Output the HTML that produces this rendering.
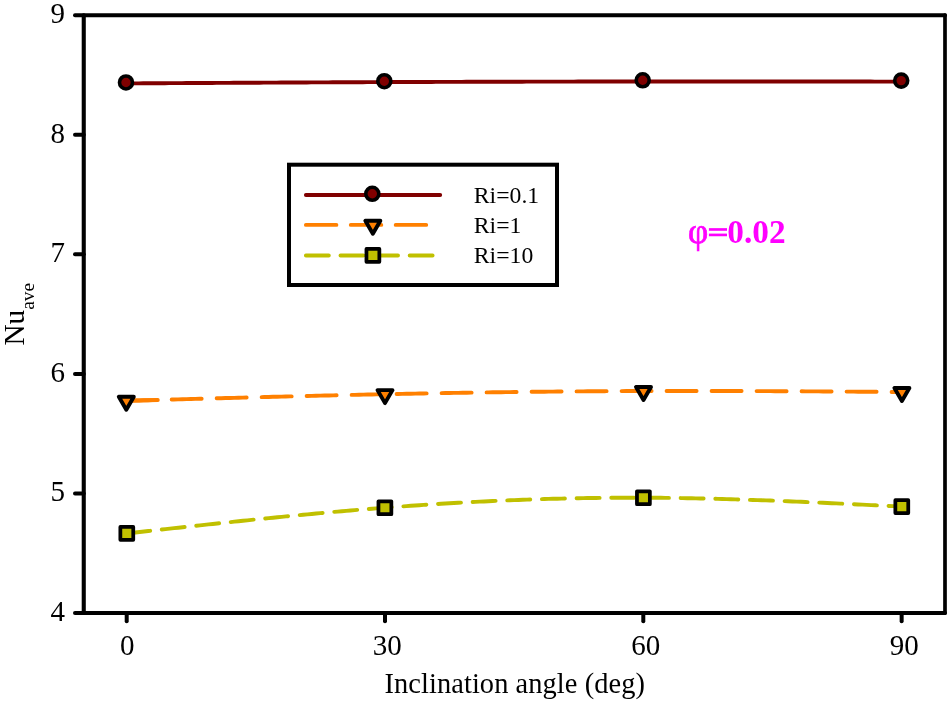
<!DOCTYPE html>
<html><head><meta charset="utf-8"><title>chart</title>
<style>html,body{margin:0;padding:0;background:#fff;}body{width:948px;height:703px;position:relative;overflow:hidden;font-family:"Liberation Serif",serif;}</style>
</head><body>
<svg width="948" height="703" viewBox="0 0 948 703" style="position:absolute;left:0;top:0;will-change:transform">
<rect x="0" y="0" width="948" height="703" fill="#fff"/>
<path d="M126.00,83.40 L130.31,83.38 L134.61,83.35 L138.91,83.33 L143.22,83.30 L147.53,83.28 L151.83,83.26 L156.13,83.23 L160.44,83.21 L164.75,83.18 L169.05,83.16 L173.35,83.14 L177.66,83.11 L181.97,83.09 L186.27,83.07 L190.57,83.04 L194.88,83.02 L199.19,83.00 L203.49,82.97 L207.80,82.95 L212.10,82.93 L216.41,82.90 L220.71,82.88 L225.01,82.86 L229.32,82.83 L233.62,82.81 L237.93,82.79 L242.24,82.76 L246.54,82.74 L250.85,82.72 L255.15,82.70 L259.45,82.68 L263.76,82.65 L268.07,82.63 L272.37,82.61 L276.68,82.59 L280.98,82.57 L285.29,82.54 L289.59,82.52 L293.89,82.50 L298.20,82.48 L302.50,82.46 L306.81,82.44 L311.12,82.42 L315.42,82.40 L319.73,82.38 L324.03,82.36 L328.34,82.34 L332.64,82.32 L336.94,82.30 L341.25,82.28 L345.56,82.26 L349.86,82.24 L354.16,82.22 L358.47,82.21 L362.77,82.19 L367.08,82.17 L371.38,82.15 L375.69,82.13 L380.00,82.12 L384.30,82.10 L388.61,82.08 L392.91,82.07 L397.22,82.05 L401.53,82.03 L405.83,82.02 L410.14,82.00 L414.45,81.99 L418.75,81.97 L423.06,81.96 L427.37,81.94 L431.67,81.93 L435.98,81.91 L440.29,81.90 L444.59,81.88 L448.90,81.87 L453.21,81.86 L457.51,81.84 L461.82,81.83 L466.13,81.82 L470.43,81.81 L474.74,81.79 L479.05,81.78 L483.35,81.77 L487.66,81.76 L491.97,81.75 L496.27,81.74 L500.58,81.73 L504.89,81.72 L509.19,81.71 L513.50,81.69 L517.81,81.69 L522.11,81.68 L526.42,81.67 L530.73,81.66 L535.03,81.65 L539.34,81.64 L543.65,81.63 L547.95,81.62 L552.26,81.61 L556.57,81.61 L560.87,81.60 L565.18,81.59 L569.49,81.58 L573.79,81.58 L578.10,81.57 L582.41,81.56 L586.71,81.56 L591.02,81.55 L595.33,81.55 L599.63,81.54 L603.94,81.54 L608.25,81.53 L612.55,81.53 L616.86,81.52 L621.17,81.52 L625.47,81.51 L629.78,81.51 L634.09,81.51 L638.39,81.50 L642.70,81.50 L647.08,81.50 L651.46,81.49 L655.84,81.49 L660.23,81.49 L664.61,81.49 L668.99,81.49 L673.37,81.48 L677.75,81.48 L682.13,81.48 L686.51,81.48 L690.89,81.48 L695.28,81.48 L699.66,81.48 L704.04,81.48 L708.42,81.48 L712.80,81.48 L717.18,81.48 L721.56,81.48 L725.95,81.48 L730.33,81.48 L734.71,81.48 L739.09,81.48 L743.47,81.49 L747.85,81.49 L752.23,81.49 L756.62,81.49 L761.00,81.49 L765.38,81.49 L769.76,81.50 L774.14,81.50 L778.52,81.50 L782.90,81.50 L787.28,81.51 L791.67,81.51 L796.05,81.51 L800.43,81.51 L804.81,81.52 L809.19,81.52 L813.57,81.52 L817.95,81.53 L822.34,81.53 L826.72,81.53 L831.10,81.54 L835.48,81.54 L839.86,81.54 L844.24,81.55 L848.62,81.55 L853.01,81.56 L857.39,81.56 L861.77,81.56 L866.15,81.57 L870.53,81.57 L874.91,81.58 L879.29,81.58 L883.67,81.58 L888.06,81.59 L892.44,81.59 L896.82,81.60 L901.20,81.60" fill="none" stroke="#800000" stroke-width="3.9" stroke-linecap="round"/>
<path d="M126.30,400.80 L130.61,400.68 L134.92,400.56 L139.23,400.44 L143.55,400.32 L147.86,400.20 L152.17,400.08 L156.48,399.96 L160.79,399.84 L165.10,399.72 L169.42,399.60 L173.73,399.48 L178.04,399.36 L182.35,399.24 L186.66,399.12 L190.97,399.00 L195.29,398.88 L199.60,398.77 L203.91,398.65 L208.22,398.53 L212.53,398.41 L216.84,398.30 L221.16,398.18 L225.47,398.07 L229.78,397.95 L234.09,397.83 L238.40,397.72 L242.71,397.61 L247.03,397.49 L251.34,397.38 L255.65,397.27 L259.96,397.15 L264.27,397.04 L268.58,396.93 L272.90,396.82 L277.21,396.71 L281.52,396.60 L285.83,396.49 L290.14,396.38 L294.45,396.28 L298.77,396.17 L303.08,396.06 L307.39,395.96 L311.70,395.85 L316.01,395.75 L320.32,395.64 L324.64,395.54 L328.95,395.44 L333.26,395.34 L337.57,395.24 L341.88,395.14 L346.19,395.04 L350.51,394.94 L354.82,394.85 L359.13,394.75 L363.44,394.66 L367.75,394.56 L372.06,394.47 L376.38,394.38 L380.69,394.29 L385.00,394.20 L389.31,394.11 L393.62,394.02 L397.93,393.94 L402.23,393.85 L406.54,393.77 L410.85,393.68 L415.16,393.60 L419.47,393.52 L423.77,393.44 L428.08,393.36 L432.39,393.28 L436.70,393.21 L441.01,393.13 L445.32,393.06 L449.62,392.99 L453.93,392.91 L458.24,392.84 L462.55,392.77 L466.86,392.70 L471.17,392.64 L475.48,392.57 L479.78,392.51 L484.09,392.44 L488.40,392.38 L492.71,392.32 L497.02,392.26 L501.32,392.20 L505.63,392.14 L509.94,392.09 L514.25,392.03 L518.56,391.98 L522.87,391.92 L527.17,391.87 L531.48,391.82 L535.79,391.77 L540.10,391.73 L544.41,391.68 L548.72,391.64 L553.02,391.59 L557.33,391.55 L561.64,391.51 L565.95,391.47 L570.26,391.43 L574.57,391.40 L578.88,391.36 L583.18,391.33 L587.49,391.29 L591.80,391.26 L596.11,391.23 L600.42,391.20 L604.73,391.18 L609.03,391.15 L613.34,391.13 L617.65,391.11 L621.96,391.08 L626.27,391.06 L630.58,391.05 L634.88,391.03 L639.19,391.01 L643.50,391.00 L647.88,390.99 L652.26,390.98 L656.64,390.97 L661.02,390.96 L665.40,390.95 L669.78,390.95 L674.16,390.94 L678.54,390.94 L682.92,390.94 L687.30,390.94 L691.68,390.94 L696.06,390.94 L700.44,390.95 L704.82,390.95 L709.19,390.96 L713.57,390.97 L717.95,390.97 L722.33,390.98 L726.71,390.99 L731.09,391.01 L735.47,391.02 L739.85,391.03 L744.23,391.05 L748.61,391.06 L752.99,391.08 L757.37,391.10 L761.75,391.12 L766.13,391.13 L770.51,391.15 L774.89,391.18 L779.27,391.20 L783.65,391.22 L788.03,391.24 L792.41,391.27 L796.79,391.29 L801.17,391.31 L805.55,391.34 L809.93,391.37 L814.31,391.39 L818.69,391.42 L823.07,391.45 L827.45,391.48 L831.83,391.50 L836.21,391.53 L840.58,391.56 L844.96,391.59 L849.34,391.62 L853.72,391.65 L858.10,391.68 L862.48,391.71 L866.86,391.75 L871.24,391.78 L875.62,391.81 L880.00,391.84 L884.38,391.87 L888.76,391.90 L893.14,391.94 L897.52,391.97 L901.90,392.00" fill="none" stroke="#ff8000" stroke-width="3.9" stroke-linecap="round" stroke-dasharray="30 15" stroke-dashoffset="-0.4"/>
<line x1="126.3" y1="400.8" x2="157.8" y2="399.97" stroke="#ff8000" stroke-width="3.9" stroke-linecap="round"/>
<path d="M126.80,533.40 L131.10,532.92 L135.40,532.45 L139.70,531.97 L144.01,531.49 L148.31,531.02 L152.61,530.54 L156.91,530.06 L161.21,529.59 L165.51,529.12 L169.82,528.64 L174.12,528.17 L178.42,527.70 L182.72,527.23 L187.02,526.76 L191.32,526.29 L195.63,525.82 L199.93,525.35 L204.23,524.89 L208.53,524.43 L212.83,523.97 L217.13,523.51 L221.44,523.05 L225.74,522.59 L230.04,522.14 L234.34,521.68 L238.64,521.23 L242.94,520.78 L247.25,520.34 L251.55,519.89 L255.85,519.45 L260.15,519.01 L264.45,518.58 L268.75,518.14 L273.06,517.71 L277.36,517.28 L281.66,516.85 L285.96,516.43 L290.26,516.01 L294.56,515.60 L298.87,515.18 L303.17,514.77 L307.47,514.36 L311.77,513.96 L316.07,513.56 L320.38,513.16 L324.68,512.77 L328.98,512.38 L333.28,512.00 L337.58,511.61 L341.88,511.24 L346.18,510.86 L350.49,510.49 L354.79,510.13 L359.09,509.77 L363.39,509.41 L367.69,509.06 L371.99,508.71 L376.30,508.37 L380.60,508.03 L384.90,507.70 L389.21,507.37 L393.52,507.05 L397.82,506.73 L402.13,506.41 L406.44,506.11 L410.75,505.80 L415.06,505.50 L419.37,505.21 L423.67,504.92 L427.98,504.64 L432.29,504.36 L436.60,504.09 L440.91,503.82 L445.22,503.56 L449.52,503.30 L453.83,503.05 L458.14,502.80 L462.45,502.56 L466.76,502.33 L471.07,502.10 L475.38,501.87 L479.68,501.65 L483.99,501.44 L488.30,501.23 L492.61,501.03 L496.92,500.83 L501.22,500.64 L505.53,500.45 L509.84,500.27 L514.15,500.10 L518.46,499.93 L522.77,499.77 L527.08,499.61 L531.38,499.46 L535.69,499.32 L540.00,499.18 L544.31,499.05 L548.62,498.92 L552.92,498.80 L557.23,498.68 L561.54,498.58 L565.85,498.47 L570.16,498.38 L574.47,498.29 L578.77,498.20 L583.08,498.12 L587.39,498.05 L591.70,497.99 L596.01,497.93 L600.32,497.87 L604.62,497.83 L608.93,497.79 L613.24,497.75 L617.55,497.73 L621.86,497.71 L626.17,497.69 L630.47,497.68 L634.78,497.68 L639.09,497.69 L643.40,497.70 L647.78,497.72 L652.16,497.74 L656.54,497.78 L660.92,497.82 L665.30,497.86 L669.68,497.91 L674.06,497.97 L678.44,498.04 L682.82,498.11 L687.20,498.18 L691.58,498.26 L695.96,498.35 L700.34,498.44 L704.72,498.54 L709.09,498.64 L713.47,498.75 L717.85,498.86 L722.23,498.98 L726.61,499.10 L730.99,499.23 L735.37,499.36 L739.75,499.50 L744.13,499.64 L748.51,499.79 L752.89,499.94 L757.27,500.09 L761.65,500.25 L766.03,500.41 L770.41,500.57 L774.79,500.74 L779.17,500.91 L783.55,501.08 L787.93,501.26 L792.31,501.44 L796.69,501.63 L801.07,501.81 L805.45,502.00 L809.83,502.19 L814.21,502.39 L818.59,502.58 L822.97,502.78 L827.35,502.98 L831.73,503.18 L836.11,503.39 L840.48,503.59 L844.86,503.80 L849.24,504.01 L853.62,504.22 L858.00,504.43 L862.38,504.65 L866.76,504.86 L871.14,505.08 L875.52,505.29 L879.90,505.51 L884.28,505.73 L888.66,505.95 L893.04,506.16 L897.42,506.38 L901.80,506.60" fill="none" stroke="#c0c000" stroke-width="3.9" stroke-linecap="round" stroke-dasharray="23 11.68" stroke-dashoffset="-0.5"/>
<circle cx="126.00" cy="82.45" r="6.5" fill="#800000" stroke="#000" stroke-width="3.6"/>
<circle cx="384.30" cy="81.20" r="6.5" fill="#800000" stroke="#000" stroke-width="3.6"/>
<circle cx="642.70" cy="80.30" r="6.5" fill="#800000" stroke="#000" stroke-width="3.6"/>
<circle cx="901.20" cy="80.60" r="6.5" fill="#800000" stroke="#000" stroke-width="3.6"/>
<path d="M118.80,396.75 L133.80,396.75 L126.30,409.75 Z" fill="#ff8000" stroke="#000" stroke-width="3.9" stroke-linejoin="round"/>
<path d="M377.50,390.15 L392.50,390.15 L385.00,403.15 Z" fill="#ff8000" stroke="#000" stroke-width="3.9" stroke-linejoin="round"/>
<path d="M636.00,386.95 L651.00,386.95 L643.50,399.95 Z" fill="#ff8000" stroke="#000" stroke-width="3.9" stroke-linejoin="round"/>
<path d="M894.40,387.95 L909.40,387.95 L901.90,400.95 Z" fill="#ff8000" stroke="#000" stroke-width="3.9" stroke-linejoin="round"/>
<rect x="120.35" y="526.95" width="12.90" height="12.90" fill="#c0c000" stroke="#000" stroke-width="3.75" stroke-linejoin="round"/>
<rect x="378.45" y="501.25" width="12.90" height="12.90" fill="#c0c000" stroke="#000" stroke-width="3.75" stroke-linejoin="round"/>
<rect x="636.95" y="491.25" width="12.90" height="12.90" fill="#c0c000" stroke="#000" stroke-width="3.75" stroke-linejoin="round"/>
<rect x="895.35" y="500.15" width="12.90" height="12.90" fill="#c0c000" stroke="#000" stroke-width="3.75" stroke-linejoin="round"/>
<path d="M945.0,15.2 L83.75,15.2 L83.75,613.05 L945.0,613.05" fill="none" stroke="#000" stroke-width="4.1" stroke-linejoin="round" stroke-linecap="round"/>
<path d="M945.0,15.2 L945.0,613.05" fill="none" stroke="#000" stroke-width="3.7" stroke-linecap="round"/>
<line x1="75" y1="613.05" x2="83.75" y2="613.05" stroke="#000" stroke-width="4" stroke-linecap="round"/>
<line x1="75" y1="493.48" x2="83.75" y2="493.48" stroke="#000" stroke-width="4" stroke-linecap="round"/>
<line x1="75" y1="373.91" x2="83.75" y2="373.91" stroke="#000" stroke-width="4" stroke-linecap="round"/>
<line x1="75" y1="254.34" x2="83.75" y2="254.34" stroke="#000" stroke-width="4" stroke-linecap="round"/>
<line x1="75" y1="134.77" x2="83.75" y2="134.77" stroke="#000" stroke-width="4" stroke-linecap="round"/>
<line x1="75" y1="15.20" x2="83.75" y2="15.20" stroke="#000" stroke-width="4" stroke-linecap="round"/>
<line x1="126.7" y1="613.05" x2="126.7" y2="621.25" stroke="#000" stroke-width="4" stroke-linecap="round"/>
<line x1="385.0" y1="613.05" x2="385.0" y2="621.25" stroke="#000" stroke-width="4" stroke-linecap="round"/>
<line x1="643.3" y1="613.05" x2="643.3" y2="621.25" stroke="#000" stroke-width="4" stroke-linecap="round"/>
<line x1="901.65" y1="613.05" x2="901.65" y2="621.25" stroke="#000" stroke-width="4" stroke-linecap="round"/>
<rect x="289" y="164.7" width="268" height="120.3" fill="#fff" stroke="#000" stroke-width="4"/>
<line x1="305.9" y1="194.95" x2="440.2" y2="194.95" stroke="#800000" stroke-width="3.9" stroke-linecap="round"/>
<line x1="305.9" y1="224.9" x2="426.4" y2="224.9" stroke="#ff8000" stroke-width="3.9" stroke-linecap="round" stroke-dasharray="30.5 14.4"/>
<line x1="305.9" y1="255.45" x2="432.6" y2="255.45" stroke="#c0c000" stroke-width="3.9" stroke-linecap="round" stroke-dasharray="22.9 11.7"/>
<circle cx="372.30" cy="193.80" r="6.5" fill="#800000" stroke="#000" stroke-width="3.6"/>
<path d="M365.35,220.70 L380.35,220.70 L372.85,233.70 Z" fill="#ff8000" stroke="#000" stroke-width="3.9" stroke-linejoin="round"/>
<rect x="366.45" y="248.95" width="12.90" height="12.90" fill="#c0c000" stroke="#000" stroke-width="3.75" stroke-linejoin="round"/>
<text x="65.0" y="620.85" font-family="Liberation Serif, serif" font-size="29" text-anchor="end">4</text>
<text x="65.0" y="501.28" font-family="Liberation Serif, serif" font-size="29" text-anchor="end">5</text>
<text x="65.0" y="381.71" font-family="Liberation Serif, serif" font-size="29" text-anchor="end">6</text>
<text x="65.0" y="262.14" font-family="Liberation Serif, serif" font-size="29" text-anchor="end">7</text>
<text x="65.0" y="142.57" font-family="Liberation Serif, serif" font-size="29" text-anchor="end">8</text>
<text x="65.0" y="23.00" font-family="Liberation Serif, serif" font-size="29" text-anchor="end">9</text>
<text x="127.35" y="654.7" font-family="Liberation Serif, serif" font-size="29" text-anchor="middle">0</text>
<text x="387.15" y="654.7" font-family="Liberation Serif, serif" font-size="29" text-anchor="middle">30</text>
<text x="645.80" y="654.7" font-family="Liberation Serif, serif" font-size="29" text-anchor="middle">60</text>
<text x="904.25" y="654.7" font-family="Liberation Serif, serif" font-size="29" text-anchor="middle">90</text>
<text x="384.5" y="693.05" font-family="Liberation Serif, serif" font-size="28.4" letter-spacing="0.085" id="xl">Inclination angle (deg)</text>
<text transform="translate(23.9,345.5) rotate(-90)" font-family="Liberation Serif, serif" font-size="29.2" id="yl">Nu<tspan font-size="19.4" dy="10.3">ave</tspan></text>
<text x="473.8" y="203.1" font-family="Liberation Serif, serif" font-size="23.7" id="lg0">Ri=0.1</text>
<text x="473.8" y="233.0" font-family="Liberation Serif, serif" font-size="23.7" id="lg1">Ri=1</text>
<text x="473.8" y="262.9" font-family="Liberation Serif, serif" font-size="23.7" id="lg2">Ri=10</text>
<text x="688.0" y="243.2" font-family="Liberation Serif, serif" font-size="35" fill="#ff00ff" stroke="#ff00ff" stroke-width="0.7" id="phi">φ</text>
<rect x="708.9" y="228.15" width="18.1" height="2.65" fill="#ff00ff"/><rect x="708.9" y="233.6" width="18.1" height="2.65" fill="#ff00ff"/>
<text transform="translate(727.3,243.3) scale(0.963,1)" font-family="Liberation Serif, serif" font-size="34.6" font-weight="bold" fill="#ff00ff" id="phinum">0.02</text>
</svg>
</body></html>
